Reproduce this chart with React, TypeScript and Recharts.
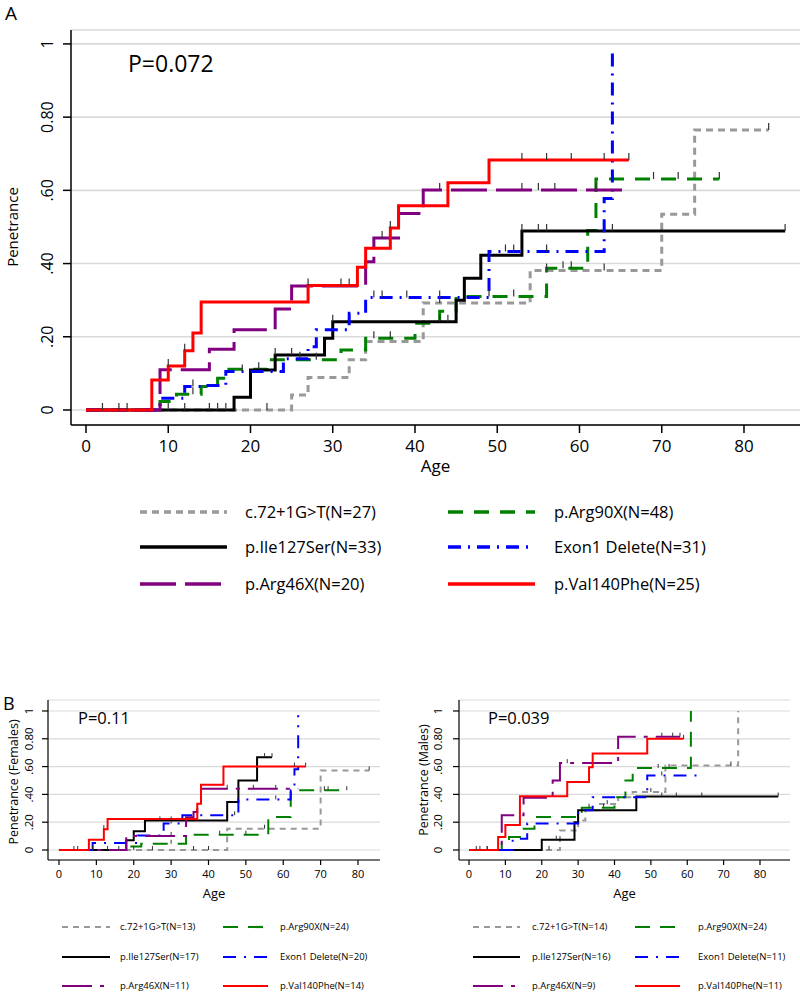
import React from 'react';
import { LineChart, Line, XAxis, YAxis, CartesianGrid } from 'recharts';

type Pt = [number, number];

const ageTicks = [0, 10, 20, 30, 40, 50, 60, 70, 80];
const penTicks = [0, 0.2, 0.4, 0.6, 0.8, 1];
const penLabels = ['0', '.20', '.40', '.60', '0.80', '1'];

const groups = ['c.72+1G>T', 'p.Ile127Ser', 'p.Arg46X', 'p.Arg90X', 'Exon1 Delete', 'p.Val140Phe'];
const allN = [27, 33, 20, 48, 31, 25];
const femN = [13, 17, 11, 24, 20, 14];
const maleN = [14, 16, 9, 24, 11, 11];

// panel A, all carriers: [age, penetrance] step points, censored ages
const allGray: Pt[] = [[0, 0], [25, 0.041], [27, 0.089], [32, 0.137], [34, 0.187], [41, 0.292], [54, 0.381], [70, 0.535], [74, 0.765], [83, 0.765]];
const allGrayCens = [22, 43, 56, 63, 83];
const allBlack: Pt[] = [[0, 0], [18, 0.035], [20, 0.109], [23, 0.15], [29, 0.196], [30, 0.241], [45, 0.3], [46, 0.36], [48, 0.423], [53, 0.489], [85, 0.489]];
const allBlackCens = [10, 12, 15, 16, 17, 23, 25, 30, 43, 44, 53, 55, 56, 64, 85];
const allPurple: Pt[] = [[0, 0], [9, 0.11], [15, 0.166], [18, 0.219], [23, 0.276], [25, 0.339], [34, 0.405], [35, 0.47], [38, 0.537], [41, 0.601], [66, 0.601]];
const allPurpleCens = [36, 43, 53, 55, 57, 62];
const allGreen: Pt[] = [[0, 0], [9, 0.023], [11, 0.043], [14, 0.064], [16, 0.087], [17, 0.111], [22, 0.137], [31, 0.164], [34, 0.196], [40, 0.237], [43, 0.27], [45, 0.31], [56, 0.387], [61, 0.49], [62, 0.631], [77, 0.631]];
const allGreenCens = [13, 21, 28, 35, 37, 49, 52, 58, 59, 69, 72, 77];
const allBlue: Pt[] = [[0, 0], [9, 0.032], [12, 0.064], [14, 0.067], [17, 0.105], [24, 0.14], [27, 0.173], [28, 0.219], [32, 0.264], [34, 0.307], [49, 0.433], [63, 0.578], [64, 0.98]];
const allBlueCens = [13, 19, 26, 35, 36, 39, 43, 51, 52, 56];
const allRed: Pt[] = [[0, 0], [8, 0.082], [10, 0.12], [12, 0.162], [13, 0.21], [14, 0.295], [27, 0.34], [33, 0.39], [34, 0.442], [37, 0.497], [38, 0.558], [44, 0.621], [49, 0.683], [66, 0.683]];
const allRedCens = [2, 4, 5, 10, 12, 27, 31, 32, 37, 53, 56, 59, 63, 66];

// panel B left, females
const femGray: Pt[] = [[0, 0], [45, 0.153], [70, 0.572], [83, 0.572]];
const femGrayCens = [20, 25, 36, 40, 55, 83];
const femBlack: Pt[] = [[0, 0], [18, 0.07], [20, 0.134], [23, 0.213], [45, 0.345], [48, 0.5], [53, 0.668], [57, 0.668]];
const femBlackCens = [9, 13, 16, 27, 30, 55, 57];
const femPurple: Pt[] = [[0, 0], [18, 0.1], [34, 0.236], [36, 0.273], [37, 0.33], [38, 0.44], [64, 0.44]];
const femPurpleCens = [30, 45, 52, 58];
const femGreen: Pt[] = [[0, 0], [18, 0.026], [22, 0.045], [34, 0.11], [56, 0.237], [62, 0.43], [77, 0.43]];
const femGreenCens = [30, 43, 50, 71, 72, 77];
const femBlue: Pt[] = [[0, 0], [9, 0.05], [21, 0.105], [28, 0.19], [33, 0.25], [48, 0.364], [62, 0.43], [63, 0.58], [64, 0.97]];
const femBlueCens = [30, 47, 58];
const femRed: Pt[] = [[0, 0], [8, 0.074], [12, 0.15], [13, 0.223], [37, 0.333], [38, 0.47], [44, 0.6], [66, 0.6]];
const femRedCens = [4, 5, 12, 63, 66];

// panel B right, males
const maleGray: Pt[] = [[0, 0], [25, 0.14], [30, 0.213], [32, 0.285], [36, 0.33], [41, 0.38], [45, 0.417], [54, 0.608], [74, 1]];
const maleGrayCens = [22, 38, 50, 72];
const maleBlack: Pt[] = [[0, 0], [20, 0.074], [29, 0.2], [30, 0.285], [46, 0.385], [85, 0.385]];
const maleBlackCens = [3, 5, 24, 53, 57, 64, 85];
const malePurple: Pt[] = [[0, 0], [9, 0.25], [15, 0.375], [23, 0.5], [25, 0.625], [41, 0.815], [58, 0.815]];
const malePurpleCens = [27, 53, 56, 58];
const maleGreen: Pt[] = [[0, 0], [9, 0.046], [11, 0.093], [14, 0.153], [18, 0.237], [31, 0.304], [40, 0.38], [43, 0.5], [45, 0.59], [61, 1]];
const maleGreenCens = [33, 37, 52, 55];
const maleBlue: Pt[] = [[0, 0], [12, 0.08], [16, 0.19], [30, 0.285], [34, 0.38], [49, 0.536], [63, 0.536]];
const maleBlueCens = [53];
const maleRed: Pt[] = [[0, 0], [8, 0.093], [10, 0.18], [14, 0.386], [27, 0.49], [33, 0.596], [34, 0.695], [49, 0.8], [59, 0.8]];
const maleRedCens = [2, 5, 59];

const colors = ['#999999', '#000000', '#800080', '#008000', '#0000ff', '#ff0000'];
const dashBig = ['7 5', undefined, '36 9', '15 11', '13 7 2 7', undefined];
const dashSmall = ['6 5', undefined, '30 8 4 8', '15 10', '13 8 2 8', undefined];
const drawOrder = [0, 3, 1, 4, 2, 5];

const build = (steps: Pt[], cens: number[]) => {
  const pts = steps.map(([x, y]) => ({ x, y, c: false }));
  cens.forEach((a) => {
    let v = 0;
    steps.forEach(([x, y]) => { if (x <= a) v = y; });
    pts.push({ x: a, y: v, c: true });
  });
  return pts.sort((p, q) => p.x - q.x || Number(p.c) - Number(q.c));
};

const allData = [build(allGray, allGrayCens), build(allBlack, allBlackCens), build(allPurple, allPurpleCens), build(allGreen, allGreenCens), build(allBlue, allBlueCens), build(allRed, allRedCens)];
const femData = [build(femGray, femGrayCens), build(femBlack, femBlackCens), build(femPurple, femPurpleCens), build(femGreen, femGreenCens), build(femBlue, femBlueCens), build(femRed, femRedCens)];
const maleData = [build(maleGray, maleGrayCens), build(maleBlack, maleBlackCens), build(malePurple, malePurpleCens), build(maleGreen, maleGreenCens), build(maleBlue, maleBlueCens), build(maleRed, maleRedCens)];

type PanelProps = {
  left: number; top: number; width: number; height: number;
  axisW: number; plotTop: number; axisH: number;
  xDomain: [number, number]; yDomain: [number, number];
  data: any[][]; big: boolean; labelX: number;
};

const Panel = ({ left, top, width, height, axisW, plotTop, axisH, xDomain, yDomain, data, big, labelX }: PanelProps) => {
  const fs = big ? 17 : 11;
  const yTick = (p: any) => {
    const i = penTicks.findIndex((t) => Math.abs(t - p.payload.value) < 1e-6);
    return (
      <text x={labelX} y={p.y} dy="0.35em" textAnchor="middle" fontSize={big ? 16 : 11.5} fill="#000"
        transform={`rotate(-90 ${labelX} ${p.y})`}>{penLabels[i]}</text>
    );
  };
  const dot = (key: string) => (p: any) => p.payload.c
    ? <line key={`${key}-${p.index}`} x1={p.cx} x2={p.cx} y1={p.cy} y2={p.cy - (big ? 7 : 4)} stroke="#333" strokeWidth={big ? 1.2 : 1} />
    : <g key={`${key}-${p.index}`} />;
  return (
    <div style={{ position: 'absolute', left, top }}>
      <LineChart width={width} height={height} margin={{ top: plotTop, right: 5, bottom: 0, left: 0 }}>
        <CartesianGrid vertical={false} stroke="#dadada" strokeWidth={big ? 1.6 : 1.2} />
        <XAxis dataKey="x" type="number" domain={xDomain} ticks={ageTicks} allowDataOverflow interval={0}
          height={axisH} tickSize={big ? 8 : 5} tickMargin={big ? 7 : 5}
          axisLine={{ stroke: '#000', strokeWidth: big ? 1.5 : 1.2 }} tickLine={{ stroke: '#000', strokeWidth: big ? 1.5 : 1.2 }}
          tick={{ fill: '#000', fontSize: fs }}
          label={{ value: 'Age', position: 'insideBottom', offset: big ? 8 : 12, fill: '#000', fontSize: big ? 17 : 13 }} />
        <YAxis type="number" domain={yDomain} ticks={penTicks} allowDataOverflow interval={0} width={axisW}
          tickSize={big ? 8 : 6} axisLine={{ stroke: '#000', strokeWidth: big ? 1.5 : 1.2 }}
          tickLine={{ stroke: '#000', strokeWidth: big ? 1.5 : 1.2 }} tick={yTick} />
        {drawOrder.map((i) => (
          <Line key={groups[i]} data={data[i]} dataKey="y" type="stepAfter" stroke={colors[i]}
            strokeWidth={big ? 3 : 2} strokeDasharray={big ? dashBig[i] : dashSmall[i]}
            dot={dot(groups[i])} activeDot={false} isAnimationActive={false} />
        ))}
      </LineChart>
    </div>
  );
};

const LegendBlock = ({ rows, cols, n, fs, big }: { rows: number[]; cols: number[][]; n: number[]; fs: number; big: boolean }) => {
  const layout = [[0, 1, 2], [3, 4, 5]];
  return (
    <g>
      {layout.map((col, c) => col.map((g, r) => (
        <g key={`${c}-${r}`}>
          <line x1={cols[c][0]} x2={cols[c][1]} y1={rows[r]} y2={rows[r]} stroke={colors[g]}
            strokeWidth={big ? 3.5 : 2.2} strokeDasharray={big ? dashBig[g] : dashSmall[g]} />
          <text x={cols[c][2]} y={rows[r]} dy="0.35em" fontSize={fs} fill="#000">{`${groups[g]}(N=${n[g]})`}</text>
        </g>
      )))}
    </g>
  );
};

export default function App() {
  return (
    <div style={{ position: 'absolute', left: 0, top: 0, width: 800, height: 992, background: '#fff', fontFamily: '"Open Sans", sans-serif' }}>
      <Panel left={0} top={0} width={805} height={480} axisW={71} plotTop={30} axisH={55}
        xDomain={[-1.824, 86.81]} yDomain={[-0.041, 1.038]} data={allData} big labelX={47} />
      <Panel left={0} top={690} width={385} height={220} axisW={48} plotTop={10} axisH={50}
        xDomain={[-2.94, 85.89]} yDomain={[-0.072, 1.079]} data={femData} big={false} labelX={29} />
      <Panel left={400} top={690} width={395} height={220} axisW={59} plotTop={10} axisH={50}
        xDomain={[-2.75, 88.25]} yDomain={[-0.072, 1.079]} data={maleData} big={false} labelX={38} />
      <svg width={800} height={992} style={{ position: 'absolute', left: 0, top: 0, pointerEvents: 'none' }}>
        <text x={5} y={20} fontSize={19} fill="#000">A</text>
        <text x={128} y={72} fontSize={23} fill="#000">P=0.072</text>
        <text x={13} y={227} dy="0.35em" textAnchor="middle" fontSize={15} fill="#000" transform="rotate(-90 13 227)">Penetrance</text>
        <LegendBlock rows={[512, 547, 584]} cols={[[140, 227, 245], [448, 535, 554]]} n={allN} fs={16.5} big />
        <text x={3} y={710} fontSize={18} fill="#000">B</text>
        <text x={78} y={724} fontSize={16.5} fill="#000">P=0.11</text>
        <text x={488} y={724} fontSize={16.5} fill="#000">P=0.039</text>
        <text x={14} y={782} dy="0.35em" textAnchor="middle" fontSize={12.5} fill="#000" transform="rotate(-90 14 782)">Penetrance (Females)</text>
        <text x={424} y={780} dy="0.35em" textAnchor="middle" fontSize={12.5} fill="#000" transform="rotate(-90 424 780)">Penetrance (Males)</text>
        <LegendBlock rows={[927, 957, 986]} cols={[[62, 110, 120], [223, 268, 280]]} n={femN} fs={9.5} big={false} />
        <LegendBlock rows={[927, 957, 986]} cols={[[473, 520, 532], [635, 680, 698]]} n={maleN} fs={9.5} big={false} />
      </svg>
    </div>
  );
}
